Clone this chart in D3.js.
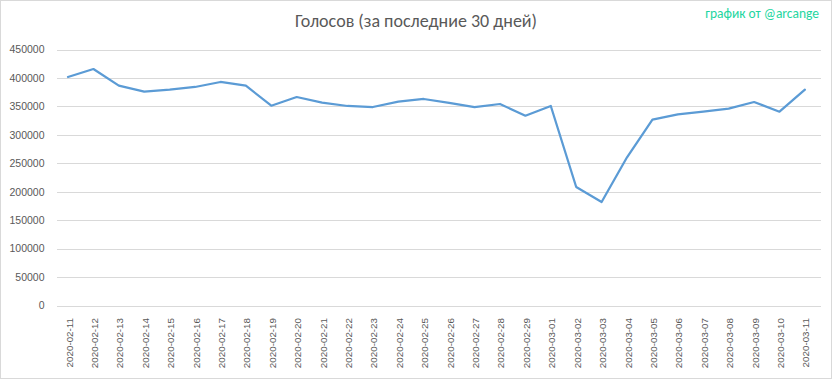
<!DOCTYPE html>
<html>
<head>
<meta charset="utf-8">
<script src="https://cdn.jsdelivr.net/npm/d3@7"></script>
<style>
  body { margin: 0; background: #fff; }
  svg { display: block; font-family: Calibri, "Open Sans", "Liberation Sans", sans-serif; }
</style>
</head>
<body>
<svg id="chart"></svg>
<script>
// chart data
var dates = [
  "2020-02-11", "2020-02-12", "2020-02-13", "2020-02-14", "2020-02-15",
  "2020-02-16", "2020-02-17", "2020-02-18", "2020-02-19", "2020-02-20",
  "2020-02-21", "2020-02-22", "2020-02-23", "2020-02-24", "2020-02-25",
  "2020-02-26", "2020-02-27", "2020-02-28", "2020-02-29", "2020-03-01",
  "2020-03-02", "2020-03-03", "2020-03-04", "2020-03-05", "2020-03-06",
  "2020-03-07", "2020-03-08", "2020-03-09", "2020-03-10", "2020-03-11"
];
var votes = [
  401600, 415700, 386400, 375800, 379300,
  384100, 392900, 386400, 351200, 366500,
  356500, 350700, 348900, 358300, 363000,
  356000, 348900, 354200, 333600, 350700,
  208300, 182000, 260500, 326600, 336100,
  340700, 346000, 357700, 340700, 379300
];
var yTicks = [0, 50000, 100000, 150000, 200000, 250000, 300000, 350000, 400000, 450000];
var title = "Голосов (за последние 30 дней)";
var credit = "график от @arcange";

var width = 832, height = 379;
var margin = { left: 57, right: 11, top: 49.5, bottom: 73.5 };

var svg = d3.select("#chart")
  .attr("width", width)
  .attr("height", height);

// outer border
svg.append("rect")
  .attr("x", 0.5).attr("y", 0.5)
  .attr("width", width - 1).attr("height", height - 1)
  .attr("fill", "#fff")
  .attr("stroke", "#d9d9d9");

// categories sit slightly left of the gridline span, like the original
var x = d3.scalePoint()
  .domain(dates)
  .range([55.3, 817.6])
  .padding(0.5);

var y = d3.scaleLinear()
  .domain([0, 450000])
  .range([height - margin.bottom, margin.top]);

// grid lines
svg.append("g")
  .selectAll("line")
  .data(yTicks)
  .enter().append("line")
  .attr("x1", margin.left)
  .attr("x2", width - margin.right)
  .attr("y1", function(d) { return Math.round(y(d)) + 0.5; })
  .attr("y2", function(d) { return Math.round(y(d)) + 0.5; })
  .attr("stroke", "#d9d9d9")
  .attr("stroke-width", 1);

// y axis labels
var yAxis = d3.axisLeft(y).tickValues(yTicks).tickSize(0).tickPadding(0)
  .tickFormat(function(d) { return d; });
var yAxisG = svg.append("g")
  .attr("transform", "translate(" + (margin.left - 12.5) + ",0)")
  .call(yAxis);
yAxisG.select(".domain").remove();
yAxisG.selectAll("text")
  .attr("fill", "#595959")
  .style("font-size", "10.5px");

// x axis labels
var xAxis = d3.axisBottom(x).tickSize(0).tickPadding(0);
var xAxisG = svg.append("g")
  .attr("transform", "translate(0," + (height - margin.bottom) + ")")
  .call(xAxis);
xAxisG.select(".domain").remove();
xAxisG.selectAll("text")
  .attr("fill", "#595959")
  .style("font-size", "9.8px")
  .style("text-anchor", "end")
  .attr("dy", null)
  .attr("y", 0)
  .attr("transform", "translate(4,12.5) rotate(-90)");

// line
var line = d3.line()
  .x(function(d, i) { return x(dates[i]); })
  .y(function(d) { return y(d); });

svg.append("path")
  .datum(votes)
  .attr("d", line)
  .attr("fill", "none")
  .attr("stroke", "#5b9bd5")
  .attr("stroke-width", 2.25)
  .attr("stroke-linejoin", "round")
  .attr("stroke-linecap", "round");

// title
svg.append("text")
  .attr("x", 416)
  .attr("y", 27)
  .attr("text-anchor", "middle")
  .attr("fill", "#595959")
  .style("font-size", "18px")
  .style("font-weight", 300)
  .text(title);

// credit
svg.append("text")
  .attr("x", 819)
  .attr("y", 18)
  .attr("text-anchor", "end")
  .attr("fill", "#1ed6a0")
  .style("font-size", "13.5px")
  .text(credit);
</script>
</body>
</html>
